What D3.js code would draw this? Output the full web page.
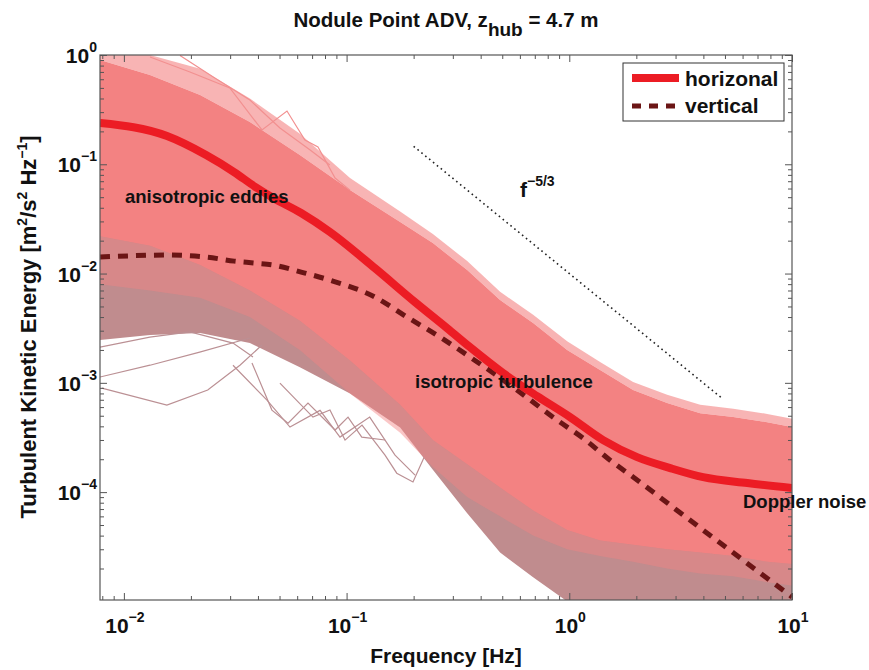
<!DOCTYPE html>
<html>
<head>
<meta charset="utf-8">
<script src="https://cdn.jsdelivr.net/npm/d3@7"></script>
<style>
  body { margin: 0; background: #fff; }
  text { font-family: "Liberation Sans", Arial, Helvetica, sans-serif; font-weight: bold; fill: #111; }
</style>
</head>
<body>
<div id="chart"></div>
<script>
// ......................
// Data

// frequencies where the spectra envelopes were read [Hz]
var envFreq = [0.0078125, 0.0131, 0.0220, 0.0368, 0.0617, 0.1036, 0.174, 0.244, 0.348, 0.489,
               0.688, 0.978, 1.375, 1.934, 2.75, 3.87, 5.45, 7.74, 10];

// horizontal spectra cloud (pink)
var hSparseTop = [1.0, 1.0, 0.75, 0.40, 0.19, 0.075, 0.037, 0.023, 0.013, 6.8e-3,
                  4.2e-3, 2.4e-3, 1.55e-3, 1.02e-3, 7.8e-4, 6.3e-4, 5.8e-4, 5.2e-4, 4.7e-4];
var hTop = [0.90, 0.656, 0.43, 0.244, 0.1216, 0.0581, 0.0296, 0.0190, 0.01076, 5.72e-3,
            3.52e-3, 2.0e-3, 1.31e-3, 8.59e-4, 6.53e-4, 5.28e-4, 4.86e-4, 4.37e-4, 3.94e-4];
var hBottom = [0.022, 0.018, 0.012, 7e-3, 3.7e-3, 1.6e-3, 6.3e-4, 3.0e-4, 1.8e-4, 1.1e-4,
               6.8e-5, 4.5e-5, 3.6e-5, 3.3e-5, 3.0e-5, 2.8e-5, 2.6e-5, 2.3e-5, 2.2e-5];
// lower reach of the horizontal spectra mixed in with the vertical ones
var hMixBottom = [8e-3, 7e-3, 6e-3, 4e-3, 2e-3, 8e-4, 3.5e-4, 1.7e-4, 9e-5, 6e-5,
                  4e-5, 3e-5, 2.6e-5, 2.3e-5, 2.0e-5, 1.8e-5, 1.7e-5, 1.5e-5, 1.4e-5];

// vertical spectra cloud (grey-rose)
var vTop = [0.09, 0.085, 0.07, 0.05, 0.03, 0.018, 0.01, 6e-3, 3.5e-3, 2e-3,
            1.2e-3, 7e-4, 4.5e-4, 3e-4, 2e-4, 1.4e-4, 1e-4, 8e-5, 6e-5];
var vBottom = [2.46e-3, 2.74e-3, 2.86e-3, 2.31e-3, 1.39e-3, 8.0e-4, 3.9e-4, 1.6e-4, 6.4e-5, 2.8e-5,
               1.66e-5, 1e-5, 1e-5, 1e-5, 1e-5, 1e-5, 1e-5, 1e-5, 1e-5];

// a few single spectra that stick out of the clouds
var pinkLineA = [[0.0131, 0.959], [0.0198, 0.699], [0.0299, 0.499], [0.0417, 0.206], [0.054, 0.307],
                 [0.065, 0.167], [0.0744, 0.144], [0.0888, 0.0748], [0.1036, 0.058]];
var pinkLineB = [[0.01786, 0.99], [0.0256, 0.616], [0.0368, 0.387], [0.0502, 0.215], [0.0686, 0.135],
                 [0.0841, 0.0984]];
var greyLineA = [[0.00796, 8.95e-4], [0.0156, 6.25e-4], [0.0238, 8.6e-4], [0.0332, 1.45e-3], [0.0417, 2.22e-3]];
var greyLineB = [[0.0309, 1.45e-3], [0.0439, 6.95e-4], [0.0557, 3.94e-4], [0.076, 5.6e-4], [0.0934, 3.19e-4],
                 [0.127, 4.86e-4], [0.165, 2.18e-4], [0.203, 1.43e-4]];
var greyLineC = [[0.0078125, 1.13e-3], [0.0131, 1.45e-3], [0.0219, 1.91e-3], [0.0368, 2.57e-3]];
var greyLineD = [[0.0376, 1.52e-3], [0.0462, 5.63e-4], [0.0546, 4.28e-4], [0.0671, 6.53e-4], [0.0888, 3.7e-4],
                 [0.1015, 4.86e-4], [0.117, 3.19e-4], [0.149, 3.0e-4]];
var greyLineE = [[0.0502, 9.95e-4], [0.0706, 4.86e-4], [0.0842, 5.64e-4], [0.0984, 2.99e-4], [0.1173, 4.1e-4],
                 [0.1488, 2.18e-4], [0.168, 1.49e-4], [0.1987, 1.24e-4], [0.225, 2.18e-4]];
var greyLineF = [[0.0078125, 2.12e-3], [0.01308, 2.62e-3], [0.0198, 2.92e-3], [0.0309, 2.31e-3], [0.038, 1.72e-3]];

// mean spectra
var hMeanFreq = [0.0078125, 0.015625, 0.0234, 0.03125, 0.039, 0.0469, 0.0625, 0.0842, 0.134, 0.2029,
                 0.2825, 0.3584, 0.504, 0.7167, 1.008, 1.419, 2.016, 2.837, 3.99, 6.3, 10];
var hMean = [0.2385, 0.1814, 0.1216, 0.0849, 0.0619, 0.0491, 0.0358, 0.024, 0.0112, 5.48e-3,
             3.17e-3, 2.12e-3, 1.23e-3, 7.56e-4, 4.86e-4, 2.99e-4, 2.09e-4, 1.66e-4, 1.37e-4, 1.21e-4, 1.09e-4];
var vMeanFreq = [0.0078125, 0.015625, 0.0234, 0.03125, 0.039, 0.0469, 0.0625, 0.0842, 0.134, 0.1867,
                 0.263, 0.3584, 0.559, 0.8815, 1.153, 1.525, 2.016, 3.38, 10];
var vMean = [0.01416, 0.01476, 0.01416, 0.013, 0.01247, 0.01197, 0.01032, 8.7e-3, 6.1e-3, 4.0e-3,
             2.62e-3, 1.72e-3, 9.14e-4, 4.56e-4, 3.12e-4, 1.96e-4, 1.29e-4, 5.8e-5, 1.1e-5];

// f^-5/3 reference slope
var slopeFreq = [0.2, 4.9];
var slopeVal = [0.146, 7.1e-4];

// ticks
var xTicks = [0.01, 0.1, 1, 10];
var xTickExp = ["\u22122", "\u22121", "0", "1"];
var yTicks = [1e-4, 1e-3, 1e-2, 1e-1, 1];
var yTickExp = ["\u22124", "\u22123", "\u22122", "\u22121", "0"];

// ......................
// SVG area
var svgWidth = 869;
var svgHeight = 670;
var plot = { left: 100, top: 55, right: 792, bottom: 600 };

var svg = d3.select("#chart")
    .append("svg")
    .attr("width", svgWidth)
    .attr("height", svgHeight);

var x = d3.scaleLog().domain([0.0078125, 10]).range([plot.left, plot.right]);
var y = d3.scaleLog().domain([1.03e-5, 1]).range([plot.bottom, plot.top]);

svg.append("clipPath").attr("id", "plotClip")
    .append("rect")
    .attr("x", plot.left).attr("y", plot.top)
    .attr("width", plot.right - plot.left).attr("height", plot.bottom - plot.top);

var body = svg.append("g").attr("clip-path", "url(#plotClip)");

function band(lo, hi) {
    return envFreq.map((f, i) => ({ f: f, lo: lo[i], hi: hi[i] }));
}
var area = d3.area()
    .x(d => x(d.f))
    .y0(d => y(d.lo))
    .y1(d => y(d.hi));
var line = d3.line()
    .x(d => x(d[0]))
    .y(d => y(d[1]));
var smoothLine = d3.line()
    .x(d => x(d[0]))
    .y(d => y(d[1]))
    .curve(d3.curveMonotoneX);

// ......................
// clouds of single spectra
body.append("path").datum(band(vBottom, vTop))
    .attr("d", area).attr("fill", "#c08c8e");

[greyLineA, greyLineB, greyLineC, greyLineD, greyLineE, greyLineF].forEach(ln => {
    body.append("path").datum(ln)
        .attr("d", line).attr("fill", "none")
        .attr("stroke", "#bb9094").attr("stroke-width", 1.2);
});

body.append("path").datum(band(hMixBottom, hBottom))
    .attr("d", area).attr("fill", "#f38282").attr("opacity", 0.45);

body.append("path").datum(band(hTop, hSparseTop))
    .attr("d", area).attr("fill", "#f38282").attr("opacity", 0.6);

body.append("path").datum(band(hBottom, hTop))
    .attr("d", area).attr("fill", "#f38282");

[pinkLineA, pinkLineB].forEach(ln => {
    body.append("path").datum(ln)
        .attr("d", line).attr("fill", "none")
        .attr("stroke", "#f29090").attr("stroke-width", 1.2);
});

// ......................
// mean spectra
body.append("path").datum(vMeanFreq.map((f, i) => [f, vMean[i]]))
    .attr("d", smoothLine).attr("fill", "none")
    .attr("stroke", "#6b1515").attr("stroke-width", 5)
    .attr("stroke-dasharray", "10,8");

body.append("path").datum(hMeanFreq.map((f, i) => [f, hMean[i]]))
    .attr("d", smoothLine).attr("fill", "none")
    .attr("stroke", "#ec1c24").attr("stroke-width", 8)
    .attr("stroke-linejoin", "round");

// f^-5/3 dotted line
body.append("path").datum(slopeFreq.map((f, i) => [f, slopeVal[i]]))
    .attr("d", line).attr("fill", "none")
    .attr("stroke", "#222").attr("stroke-width", 1.6)
    .attr("stroke-dasharray", "1.6,3.4");

// ......................
// axes with inward ticks on every side
var xMinor = x.ticks().filter(t => xTicks.indexOf(t) < 0);
var yMinor = y.ticks().filter(t => Math.abs(Math.log10(t) - Math.round(Math.log10(t))) > 1e-6);

function styleAxis(g) {
    g.select(".domain").remove();
    g.selectAll("line").attr("stroke", "#555");
}

svg.append("g").attr("transform", `translate(0,${plot.bottom})`)
    .call(d3.axisBottom(x).tickValues(xTicks).tickSize(-7).tickFormat("")).call(styleAxis);
svg.append("g").attr("transform", `translate(0,${plot.bottom})`)
    .call(d3.axisBottom(x).tickValues(xMinor).tickSize(-4).tickFormat("")).call(styleAxis);
svg.append("g").attr("transform", `translate(0,${plot.top})`)
    .call(d3.axisTop(x).tickValues(xTicks).tickSize(-7).tickFormat("")).call(styleAxis);
svg.append("g").attr("transform", `translate(0,${plot.top})`)
    .call(d3.axisTop(x).tickValues(xMinor).tickSize(-4).tickFormat("")).call(styleAxis);
svg.append("g").attr("transform", `translate(${plot.left},0)`)
    .call(d3.axisLeft(y).tickValues(yTicks).tickSize(-7).tickFormat("")).call(styleAxis);
svg.append("g").attr("transform", `translate(${plot.left},0)`)
    .call(d3.axisLeft(y).tickValues(yMinor).tickSize(-4).tickFormat("")).call(styleAxis);
svg.append("g").attr("transform", `translate(${plot.right},0)`)
    .call(d3.axisRight(y).tickValues(yTicks).tickSize(-7).tickFormat("")).call(styleAxis);
svg.append("g").attr("transform", `translate(${plot.right},0)`)
    .call(d3.axisRight(y).tickValues(yMinor).tickSize(-4).tickFormat("")).call(styleAxis);

svg.append("rect")
    .attr("x", plot.left).attr("y", plot.top)
    .attr("width", plot.right - plot.left).attr("height", plot.bottom - plot.top)
    .attr("fill", "none").attr("stroke", "#555").attr("stroke-width", 1.2);

// tick labels as 10^n
xTicks.forEach((t, i) => {
    var lbl = svg.append("text")
        .attr("x", x(t) + 1).attr("y", 633)
        .attr("text-anchor", "middle")
        .style("font-size", "21px");
    lbl.append("tspan").text("10");
    lbl.append("tspan").attr("dy", -11).style("font-size", "14px").text(xTickExp[i]);
});
yTicks.forEach((t, i) => {
    var lbl = svg.append("text")
        .attr("x", 97).attr("y", y(t) + 8)
        .attr("text-anchor", "end")
        .style("font-size", "21px");
    lbl.append("tspan").text("10");
    lbl.append("tspan").attr("dy", -11).style("font-size", "14px").text(yTickExp[i]);
});

// ......................
// titles
var title = svg.append("text")
    .attr("x", 446).attr("y", 27)
    .attr("text-anchor", "middle")
    .style("font-size", "20.5px");
title.append("tspan").text("Nodule Point ADV, z");
title.append("tspan").attr("dy", 9).style("font-size", "19px").text("hub");
title.append("tspan").attr("dy", -9).text(" = 4.7 m");

svg.append("text")
    .attr("x", 446).attr("y", 663)
    .attr("text-anchor", "middle")
    .style("font-size", "21px")
    .text("Frequency [Hz]");

var yLabel = svg.append("text")
    .attr("transform", "translate(36, 327) rotate(-90)")
    .attr("text-anchor", "middle")
    .style("font-size", "22px");
yLabel.append("tspan").text("Turbulent Kinetic Energy [m");
yLabel.append("tspan").attr("dy", -9).style("font-size", "14px").text("2");
yLabel.append("tspan").attr("dy", 9).text("/s");
yLabel.append("tspan").attr("dy", -9).style("font-size", "14px").text("2");
yLabel.append("tspan").attr("dy", 9).text(" Hz");
yLabel.append("tspan").attr("dy", -9).style("font-size", "14px").text("\u22121");
yLabel.append("tspan").attr("dy", 9).text("]");

// ......................
// annotations
svg.append("text").attr("x", 125).attr("y", 203).style("font-size", "18.5px").text("anisotropic eddies");
svg.append("text").attr("x", 415).attr("y", 388).style("font-size", "18.5px").text("isotropic turbulence");
svg.append("text").attr("x", 743).attr("y", 508).style("font-size", "18.5px").text("Doppler noise");
var fLbl = svg.append("text").attr("x", 520).attr("y", 197).style("font-size", "21px");
fLbl.append("tspan").text("f");
fLbl.append("tspan").attr("dy", -11).style("font-size", "14px").text("\u22125/3");

// ......................
// legend
var legend = svg.append("g").attr("transform", "translate(623,63)");
legend.append("rect")
    .attr("width", 161).attr("height", 58)
    .attr("fill", "#fff").attr("stroke", "#333").attr("stroke-width", 1);
legend.append("line")
    .attr("x1", 9).attr("x2", 56).attr("y1", 15).attr("y2", 15)
    .attr("stroke", "#ec1c24").attr("stroke-width", 8);
legend.append("text").attr("x", 62).attr("y", 23).style("font-size", "21px").text("horizonal");
legend.append("line")
    .attr("x1", 9).attr("x2", 56).attr("y1", 43).attr("y2", 43)
    .attr("stroke", "#6b1515").attr("stroke-width", 5)
    .attr("stroke-dasharray", "9,8");
legend.append("text").attr("x", 62).attr("y", 50).style("font-size", "21px").text("vertical");
</script>
</body>
</html>
